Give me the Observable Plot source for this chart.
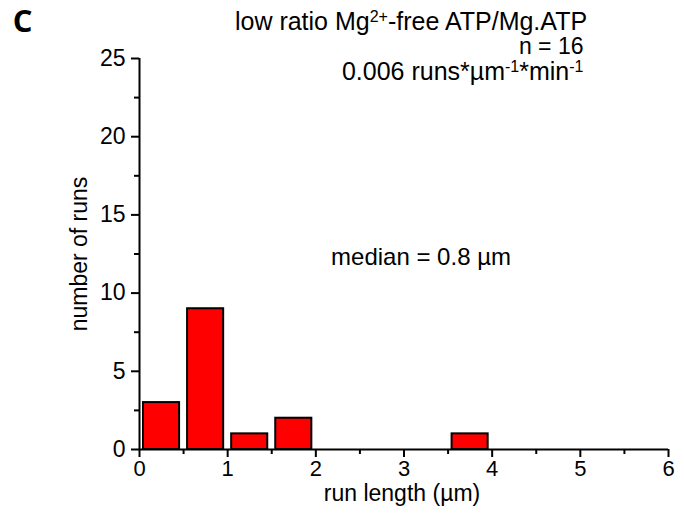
<!DOCTYPE html>
<html>
<head>
<meta charset="utf-8">
<script src="https://cdn.jsdelivr.net/npm/d3@7"></script>
<script src="https://cdn.jsdelivr.net/npm/@observablehq/plot@0.6"></script>
<style>
  html, body { margin: 0; padding: 0; background: #fff; }
  #chart { width: 684px; height: 518px; }
</style>
</head>
<body>
<div id="chart"></div>
<script>
// Histogram bins (µm) and counts
const binStarts = [0, 0.5, 1.0, 1.5, 2.0, 2.5, 3.0, 3.5, 4.0, 4.5, 5.0, 5.5];
const binWidth = 0.5;
const counts = [3, 9, 1, 2, 0, 0, 0, 1, 0, 0, 0, 0];

const xMajorTicks = [0, 1, 2, 3, 4, 5, 6];
const xMinorTicks = [0.5, 1.5, 2.5, 3.5, 4.5, 5.5];
const yMajorTicks = [0, 5, 10, 15, 20, 25];
const yMinorTicks = [2.5, 7.5, 12.5, 17.5, 22.5];

const panelLabel = "C";
const titleText = "low ratio Mg^2+^-free ATP/Mg.ATP";
const nText = "n = 16";
const rateText = "0.006 runs*µm^-1^*min^-1^";
const medianText = "median = 0.8 µm";
const xLabel = "run length (µm)";
const yLabel = "number of runs";

const bins = binStarts
  .map((b, i) => ({x0: b, x1: b + binWidth, count: counts[i]}))
  .filter(d => d.count > 0);

const FONT = "'Liberation Sans', Arial, sans-serif";

const chart = Plot.plot({
  width: 684,
  height: 518,
  marginLeft: 139,
  marginRight: 16,
  marginTop: 58,
  marginBottom: 69,
  style: {fontFamily: FONT, fontSize: "23px", color: "black", background: "white"},
  x: {domain: [0, 6]},
  y: {domain: [0, 25]},
  marks: [
    Plot.rectY(bins, {x1: "x0", x2: "x1", y: "count", fill: "#ff0000", stroke: "black", strokeWidth: 2, insetLeft: 4, insetRight: 4}),
    Plot.ruleY([0], {strokeWidth: 2}),
    Plot.ruleX([0], {strokeWidth: 2}),
    Plot.axisX({ticks: xMajorTicks, tickSize: 8, tickPadding: 3, strokeWidth: 2, fontSize: 22, tickFormat: d => String(d), label: null}),
    Plot.axisX({ticks: xMinorTicks, tickSize: 5, strokeWidth: 2, tickFormat: () => "", label: null}),
    Plot.axisY({ticks: yMajorTicks, tickSize: 8, tickPadding: 6, strokeWidth: 2, fontSize: 23, tickFormat: d => String(d), label: null}),
    Plot.axisY({ticks: yMinorTicks, tickSize: 5, strokeWidth: 2, tickFormat: () => "", label: null}),
    Plot.text([xLabel], {frameAnchor: "bottom", dx: -2, dy: 44, fontSize: 23, fontFamily: FONT, textAnchor: "middle", lineAnchor: "middle"}),
    Plot.text([yLabel], {frameAnchor: "left", dx: -60, rotate: -90, fontSize: 23, fontFamily: FONT, textAnchor: "middle", lineAnchor: "middle"}),
    Plot.text([titleText], {frameAnchor: "top", dx: 7, dy: -37, fontSize: 25, fontFamily: FONT, textAnchor: "middle", lineAnchor: "middle"}),
    Plot.text([nText], {frameAnchor: "top-right", dx: -85, dy: -12, fontSize: 23, fontFamily: FONT, textAnchor: "end", lineAnchor: "middle"}),
    Plot.text([rateText], {frameAnchor: "top-right", dx: -85, dy: 13, fontSize: 25, fontFamily: FONT, textAnchor: "end", lineAnchor: "middle"}),
    Plot.text([medianText], {frameAnchor: "middle", dx: 17, dy: 3.5, fontSize: 24, fontFamily: FONT, textAnchor: "middle", lineAnchor: "middle"}),
    Plot.text([panelLabel], {frameAnchor: "top-left", dx: -117, dy: -36, fontSize: 31, fontWeight: "bold", fontFamily: "'Open Sans', sans-serif", textAnchor: "middle", lineAnchor: "middle"})
  ]
});

// Convert ^...^ markup into superscript tspans
d3.select(chart).selectAll("text").each(function() {
  const el = this;
  const targets = el.querySelectorAll("tspan").length ? Array.from(el.querySelectorAll("tspan")) : [el];
  targets.forEach(t => {
    const s = t.textContent;
    if (!s.includes("^")) return;
    const parts = s.split("^");
    t.textContent = "";
    parts.forEach((p, i) => {
      if (!p) return;
      const ts = document.createElementNS("http://www.w3.org/2000/svg", "tspan");
      ts.textContent = p;
      if (i % 2 === 1) {
        ts.setAttribute("baseline-shift", "8px");
        ts.setAttribute("font-size", "64%");
      }
      t.appendChild(ts);
    });
  });
});

document.getElementById("chart").appendChild(chart);
</script>
</body>
</html>
